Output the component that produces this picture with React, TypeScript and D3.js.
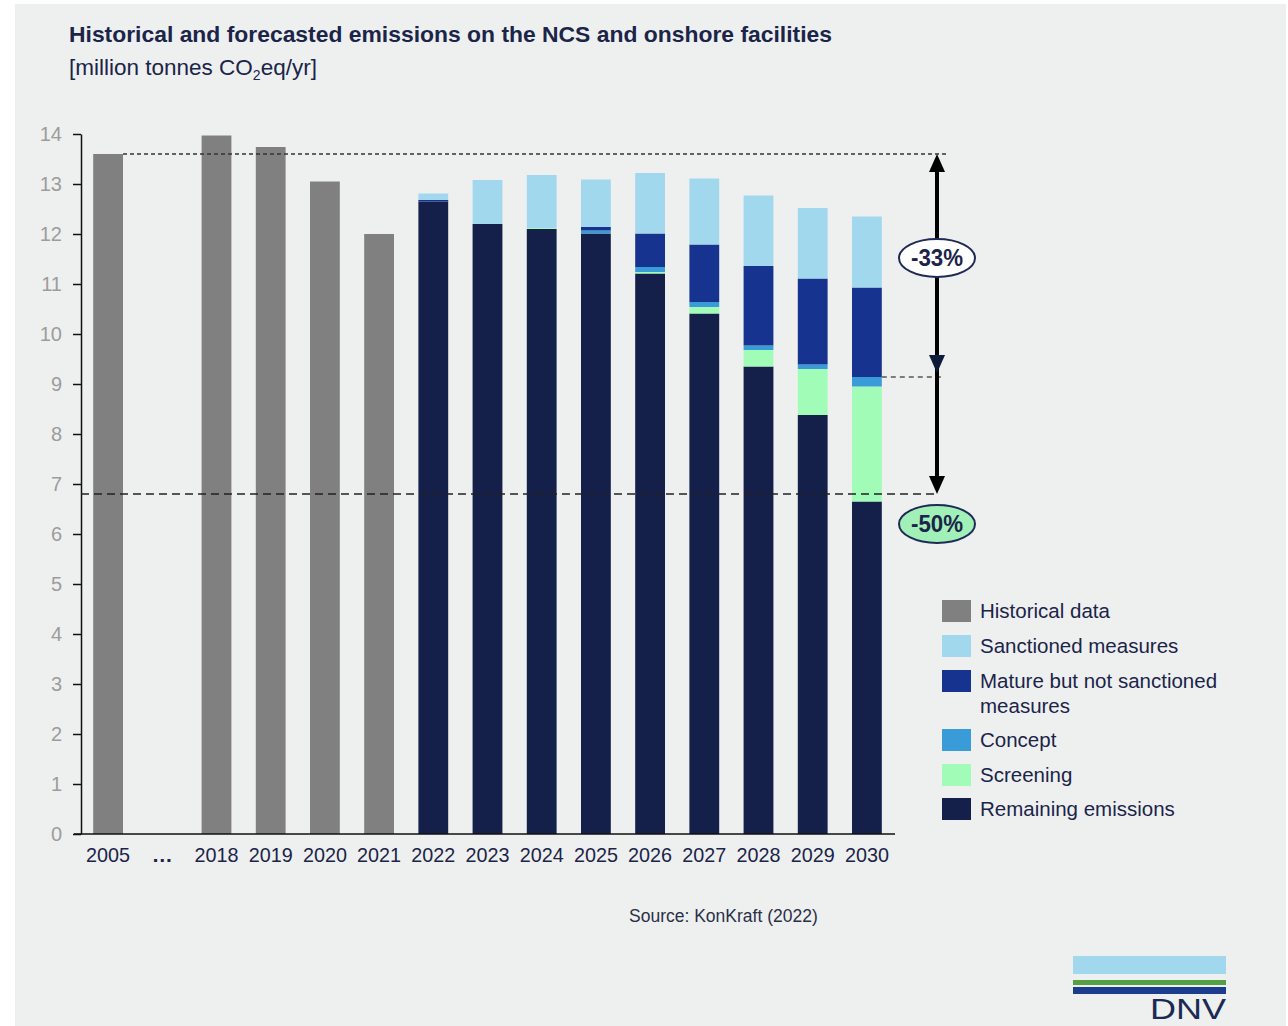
import React, { useEffect, useRef } from 'react';
import * as d3 from 'd3';

// slots on the x axis; "…" is the gap between 2005 and 2018
const slots = ['2005', '…', '2018', '2019', '2020', '2021', '2022', '2023', '2024', '2025', '2026', '2027', '2028', '2029', '2030'];

const histYears = ['2005', '2018', '2019', '2020', '2021'];
const histValues = [13.6, 13.97, 13.74, 13.05, 12.0];

const forecastYears = ['2022', '2023', '2024', '2025', '2026', '2027', '2028', '2029', '2030'];
const remaining = [12.65, 12.2, 12.1, 12.01, 11.21, 10.41, 9.35, 8.38, 6.65];
const screening = [0.0, 0.0, 0.02, 0.0, 0.03, 0.13, 0.33, 0.92, 2.3];
const concept = [0.0, 0.0, 0.0, 0.06, 0.1, 0.1, 0.09, 0.09, 0.19];
const mature = [0.03, 0.0, 0.0, 0.07, 0.67, 1.15, 1.59, 1.72, 1.79];
const sanctioned = [0.13, 0.88, 1.06, 0.95, 1.21, 1.32, 1.41, 1.41, 1.42];

const yTicks = d3.range(0, 15);

const seriesKeys = ['remaining', 'screening', 'concept', 'mature', 'sanctioned'];
const seriesColors: Record<string, string> = {
    remaining: '#141f4a',
    screening: '#a0fcb6',
    concept: '#3a9bd9',
    mature: '#16348f',
    sanctioned: '#a1d8ee',
};

const legendItems = [
    { label: ['Historical data'], color: '#808080' },
    { label: ['Sanctioned measures'], color: '#a1d8ee' },
    { label: ['Mature but not sanctioned', 'measures'], color: '#16348f' },
    { label: ['Concept'], color: '#3a9bd9' },
    { label: ['Screening'], color: '#a0fcb6' },
    { label: ['Remaining emissions'], color: '#141f4a' },
];

const ref2005 = 13.6;
const target50 = 6.8;
const level33 = 9.14;

const navy = '#1b2449';
const font = '"Liberation Sans", Arial, sans-serif';

const App: React.FC = () => {
    const svgRef = useRef<SVGSVGElement>(null);

    useEffect(() => {
        if (!svgRef.current) return;
        const svg = d3.select(svgRef.current);
        svg.selectAll('*').remove();

        const width = 1288;
        const height = 1026;

        svg.attr('width', width).attr('height', height);

        // background panel
        svg.append('rect')
            .attr('x', 15).attr('y', 4)
            .attr('width', 1271).attr('height', 1022)
            .attr('fill', '#eef0ef');

        // title
        svg.append('text')
            .attr('x', 69).attr('y', 42)
            .attr('font-family', font)
            .attr('font-size', 22)
            .attr('font-weight', 'bold')
            .attr('fill', navy)
            .attr('textLength', 763)
            .attr('lengthAdjust', 'spacingAndGlyphs')
            .text('Historical and forecasted emissions on the NCS and onshore facilities');

        const sub = svg.append('text')
            .attr('x', 69).attr('y', 75)
            .attr('font-family', font)
            .attr('font-size', 22.5)
            .attr('fill', navy);
        sub.append('tspan').text('[million tonnes CO');
        sub.append('tspan').attr('font-size', 14).attr('dy', 5).text('2');
        sub.append('tspan').attr('dy', -5).text('eq/yr]');

        const x = d3.scaleBand<string>()
            .domain(slots)
            .range([81, 894])
            .paddingInner(0.45)
            .paddingOuter(0.225);

        const y = d3.scaleLinear().domain([0, 14]).range([834, 134]);

        // historical bars
        svg.append('g')
            .selectAll('rect')
            .data(histYears.map((yr, i) => ({ yr, v: histValues[i] })))
            .enter()
            .append('rect')
            .attr('x', d => x(d.yr)!)
            .attr('y', d => y(d.v))
            .attr('width', x.bandwidth())
            .attr('height', d => y(0) - y(d.v))
            .attr('fill', '#808080');

        // forecast stacks
        const rows = forecastYears.map((yr, i) => ({
            yr,
            remaining: remaining[i],
            screening: screening[i],
            concept: concept[i],
            mature: mature[i],
            sanctioned: sanctioned[i],
        }));
        const stack = d3.stack<any>().keys(seriesKeys)(rows);

        svg.append('g')
            .selectAll('g')
            .data(stack)
            .enter()
            .append('g')
            .attr('fill', d => seriesColors[d.key])
            .selectAll('rect')
            .data(d => d)
            .enter()
            .append('rect')
            .attr('x', d => x(d.data.yr)!)
            .attr('y', d => y(d[1]))
            .attr('width', x.bandwidth())
            .attr('height', d => Math.max(0, y(d[0]) - y(d[1])));

        // y axis
        const yAxis = svg.append('g')
            .attr('transform', 'translate(81,0)')
            .call(d3.axisLeft(y).tickValues(yTicks).tickSize(8).tickPadding(11).tickSizeOuter(0));
        yAxis.select('.domain').attr('stroke', '#111').attr('stroke-width', 1.5);
        yAxis.selectAll('.tick line').attr('stroke', '#111').attr('stroke-width', 1.5);
        yAxis.selectAll('.tick text')
            .attr('font-family', font)
            .attr('font-size', 20)
            .attr('fill', '#9c9c9c');

        // x axis
        const xAxis = svg.append('g')
            .attr('transform', 'translate(0,834)')
            .call(d3.axisBottom(x).tickSize(0).tickPadding(13));
        xAxis.select('.domain')
            .attr('d', 'M74,0H895')
            .attr('stroke', '#111').attr('stroke-width', 1.5);
        xAxis.selectAll('.tick text')
            .attr('font-family', font)
            .attr('font-size', 21)
            .attr('font-weight', (d: any) => (d === '…' ? 'bold' : 'normal'))
            .attr('textLength', (d: any) => (d === '…' ? null : 44))
            .attr('lengthAdjust', 'spacingAndGlyphs')
            .attr('fill', navy);

        // reference lines
        const lastX = x('2030')! + x.bandwidth();
        const arrowX = 937;
        svg.append('line')
            .attr('x1', x('2005')! + x.bandwidth()).attr('x2', 946)
            .attr('y1', y(ref2005)).attr('y2', y(ref2005))
            .attr('stroke', '#333').attr('stroke-width', 1.6)
            .attr('stroke-dasharray', '4,3');
        svg.append('line')
            .attr('x1', 81).attr('x2', arrowX)
            .attr('y1', y(target50)).attr('y2', y(target50))
            .attr('stroke', '#222').attr('stroke-width', 1.6)
            .attr('stroke-dasharray', '8,5');
        svg.append('line')
            .attr('x1', lastX).attr('x2', 943)
            .attr('y1', y(level33)).attr('y2', y(level33))
            .attr('stroke', '#555').attr('stroke-width', 1.6)
            .attr('stroke-dasharray', '5,4');

        // arrow
        svg.append('line')
            .attr('x1', arrowX).attr('x2', arrowX)
            .attr('y1', y(ref2005) + 10).attr('y2', y(target50) - 14)
            .attr('stroke', '#000').attr('stroke-width', 4);
        const head = (tipY: number, dir: number, c: string) =>
            svg.append('path')
                .attr('d', `M${arrowX},${tipY}L${arrowX - 8},${tipY - dir * 18}L${arrowX + 8},${tipY - dir * 18}Z`)
                .attr('fill', c);
        head(y(ref2005), -1, '#000');
        head(y(target50), 1, '#000');
        head(y(level33) - 4, 1, '#0e1a3a');

        // percentage bubbles
        const bubble = (cy: number, fill: string, label: string) => {
            svg.append('ellipse')
                .attr('cx', arrowX).attr('cy', cy)
                .attr('rx', 38).attr('ry', 19)
                .attr('fill', fill)
                .attr('stroke', '#1f2a55').attr('stroke-width', 2);
            svg.append('text')
                .attr('x', arrowX).attr('y', cy + 8)
                .attr('text-anchor', 'middle')
                .attr('font-family', font)
                .attr('font-size', 23)
                .attr('font-weight', 'bold')
                .attr('fill', navy)
                .attr('textLength', 52)
                .attr('lengthAdjust', 'spacingAndGlyphs')
                .text(label);
        };
        bubble(258, '#ffffff', '-33%');
        bubble(524, '#a0f0b8', '-50%');

        // legend
        const rowY = [611, 646, 681, 740, 775, 809];
        const legend = svg.append('g');
        legendItems.forEach((item, i) => {
            legend.append('rect')
                .attr('x', 942).attr('y', rowY[i] - 11)
                .attr('width', 29).attr('height', 22)
                .attr('fill', item.color);
            item.label.forEach((line, j) => {
                legend.append('text')
                    .attr('x', 980).attr('y', rowY[i] + 7 + j * 25)
                    .attr('font-family', font)
                    .attr('font-size', 20.5)
                    .attr('fill', navy)
                    .text(line);
            });
        });

        // source
        svg.append('text')
            .attr('x', 629).attr('y', 922)
            .attr('font-family', font)
            .attr('font-size', 17.5)
            .attr('fill', '#2a2f45')
            .text('Source: KonKraft (2022)');

        // DNV logo
        svg.append('rect').attr('x', 1073).attr('y', 956).attr('width', 153).attr('height', 18).attr('fill', '#a1d8ee');
        svg.append('rect').attr('x', 1073).attr('y', 980).attr('width', 153).attr('height', 5).attr('fill', '#55a045');
        svg.append('rect').attr('x', 1073).attr('y', 987).attr('width', 153).attr('height', 7).attr('fill', '#1c3d8f');
        svg.append('text')
            .attr('x', 1226).attr('y', 1019)
            .attr('text-anchor', 'end')
            .attr('font-family', font)
            .attr('font-size', 29)
            .attr('textLength', 76)
            .attr('lengthAdjust', 'spacingAndGlyphs')
            .attr('fill', '#1b2a55')
            .text('DNV');
    }, []);

    return (
        <svg ref={svgRef} style={{ position: 'absolute', left: 0, top: 0, display: 'block' }}></svg>
    );
};

export default App;
